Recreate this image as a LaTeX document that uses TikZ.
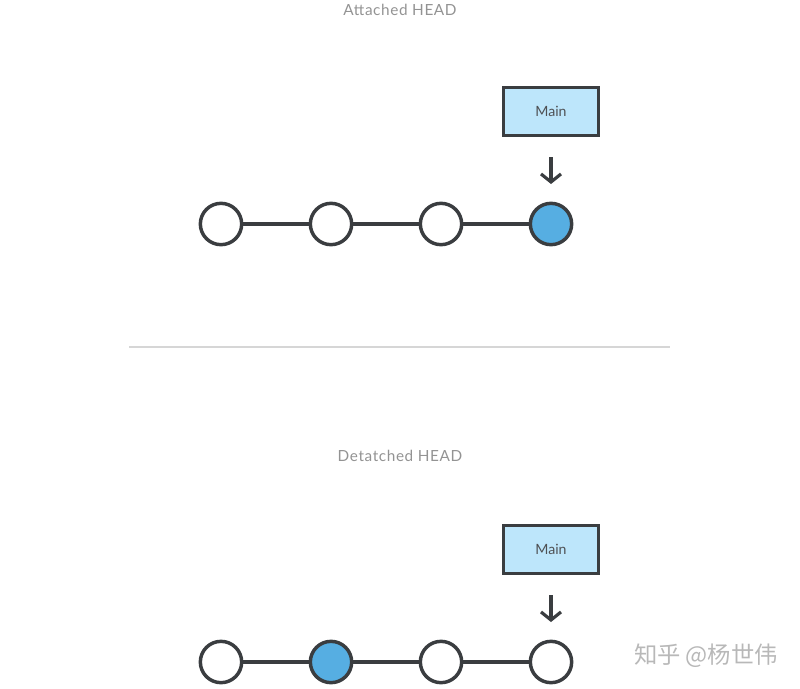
\documentclass[tikz,border=0pt]{standalone}
\usepackage{fontspec}
\setmainfont{Lato}
\newfontfamily\cjk{Noto Sans CJK SC}
\usetikzlibrary{arrows.meta}
\definecolor{ink}{HTML}{3A3D40}
\definecolor{boxfill}{HTML}{BDE6FB}
\definecolor{headfill}{HTML}{56AEE2}
\definecolor{titlegray}{HTML}{939393}
\definecolor{sepgray}{HTML}{D6D6D6}
\tikzset{
  commit/.style={circle,draw=ink,line width=2.6pt,fill=white,minimum size=31pt,inner sep=0pt},
  headcommit/.style={commit,fill=headfill},
  branchbox/.style={draw=ink,line width=2.6pt,fill=boxfill,minimum width=71pt,minimum height=36pt,inner sep=0pt,font=\fontsize{10.6}{12}\selectfont,text=ink!90},
  link/.style={draw=ink,line width=2.6pt},
  pointer/.style={draw=ink,line width=2.4pt,-{Straight Barb[length=6pt,width=15pt]}},
  title/.style={font=\addfontfeatures{LetterSpace=4}\fontsize{11.5}{13}\selectfont,text=titlegray},
}
\begin{document}
\begin{tikzpicture}[x=0.75pt,y=-0.75pt]
\useasboundingbox (0,0) rectangle (800,689);
% top
\node[title] (t1) at (400,10) {Attached HEAD};
\node[commit] (a1) at (221,224) {};
\node[commit] (a2) at (331,224) {};
\node[commit] (a3) at (441,224) {};
\node[headcommit] (a4) at (551,224) {};
\draw[link] (a1) -- (a2);
\draw[link] (a2) -- (a3);
\draw[link] (a3) -- (a4);
\node[branchbox] (m1) at (551,111.5) {Main};
\coordinate (p1s) at (551,157);
\coordinate (p1e) at (551,184);
\draw[pointer] (p1s) -- (p1e);
% separator
\coordinate (s1) at (129,347);
\coordinate (s2) at (670,347);
\draw[sepgray,line width=0.9pt] (s1) -- (s2);
% bottom
\node[title] (t2) at (400,456) {Detatched HEAD};
\node[commit] (b1) at (221,662) {};
\node[headcommit] (b2) at (331,662) {};
\node[commit] (b3) at (441,662) {};
\node[commit] (b4) at (551,662) {};
\draw[link] (b1) -- (b2);
\draw[link] (b2) -- (b3);
\draw[link] (b3) -- (b4);
\node[branchbox] (m2) at (551,549.5) {Main};
\coordinate (p2s) at (551,595);
\coordinate (p2e) at (551,622);
\draw[pointer] (p2s) -- (p2e);
% watermark
\node[font=\cjk\fontsize{17.5}{19}\selectfont,text=black!28] (wm) at (706,656) {知乎 @杨世伟};
\end{tikzpicture}
\end{document}
